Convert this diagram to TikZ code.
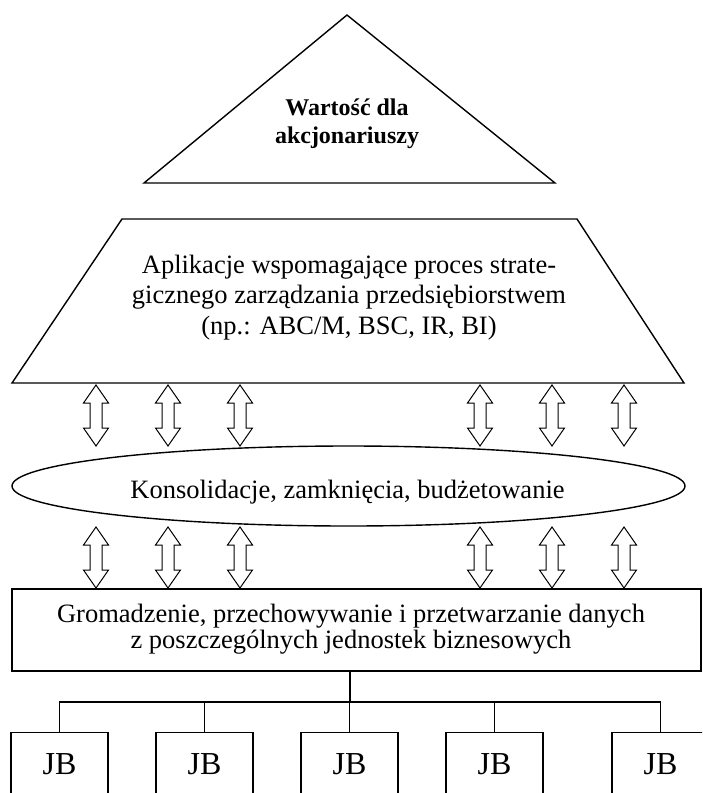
\documentclass[tikz,border=0pt]{standalone}
\usepackage{fontspec}
\setmainfont{Liberation Serif}
\usetikzlibrary{shapes.geometric,calc}
\tikzset{
  outline/.style={draw=black,line width=1.4pt,line join=miter},
  connector/.style={draw=black,line width=1.3pt},
  arrowline/.style={draw=black,line width=1pt,line join=miter,fill=white},
  txt/.style={inner sep=0pt,align=center,font=\fontsize{26.5}{30.5}\selectfont},
  jbbox/.style={draw=black,line width=1.4pt,minimum width=97pt,minimum height=80pt,anchor=north,inner sep=0pt},
  jbtxt/.style={inner sep=0pt,anchor=base,font=\fontsize{32}{34}\selectfont},
  dbl/.pic={\path[arrowline] (0,0) -- (12.5,18) -- (6,18) -- (6,43) -- (12.5,43) -- (0,61) -- (-12.5,43) -- (-6,43) -- (-6,18) -- (-12.5,18) -- cycle;}
}
\begin{document}
\begin{tikzpicture}[x=1pt,y=-1pt]
\useasboundingbox (0,0) rectangle (702,793);
\clip (0,0) rectangle (702,793);
% triangle
\coordinate (tA) at (347,15);
\coordinate (tR) at (555,183);
\coordinate (tL) at (144,183);
\draw[outline] (tA) -- (tR) -- (tL) -- cycle;
\node[txt,anchor=base,font=\fontsize{24}{28}\selectfont\bfseries] (value) at (347,143) {Wartość dla\\akcjonariuszy};
% trapezoid
\coordinate (pTL) at (122,219);
\coordinate (pTR) at (577,219);
\coordinate (pBR) at (684,383);
\coordinate (pBL) at (12,383);
\draw[outline] (pTL) -- (pTR) -- (pBR) -- (pBL) -- cycle;
\node[txt,anchor=base] (apps) at (349,334) {Aplikacje wspomagające proces strate-\\gicznego zarządzania przedsiębiorstwem\\(np.: ABC/M, BSC, IR, BI)};
% ellipse
\node[ellipse,outline,minimum width=673pt,minimum height=80pt,inner sep=0pt] (cons) at (348.5,486) {};
\node[txt,anchor=base] (consT) at (347.5,498) {Konsolidacje, zamknięcia, budżetowanie};
% arrows
\foreach \x in {96,168,240,480,552,624}{
  \pic at (\x,385) {dbl};
  \pic at (\x,527) {dbl};
}
% bottom box
\node[draw=black,line width=1.4pt,minimum width=689pt,minimum height=82pt,inner sep=0pt] (data) at (356.5,630) {};
\node[txt,anchor=base,font=\fontsize{26.5}{25.5}\selectfont] (dataT) at (351,648) {Gromadzenie, przechowywanie i przetwarzanie danych\\z poszczególnych jednostek biznesowych};
% tree
\coordinate (bar) at (350,702);
\foreach \i/\x in {1/59.5,2/204.5,3/349.5,4/494.5,5/660.5}{
  \node[jbbox] (jb\i) at (\x,732) {};
  \node[jbtxt] (jbt\i) at (\x,774) {JB};
}
\draw[connector] (data.south -| bar) -- (bar);
\draw[connector] (jb1.north) |- (jb5.north |- bar) -- (jb5.north);
\foreach \i in {2,3,4}{
  \draw[connector] (jb\i.north |- bar) -- (jb\i.north);
}
\end{tikzpicture}
\end{document}
